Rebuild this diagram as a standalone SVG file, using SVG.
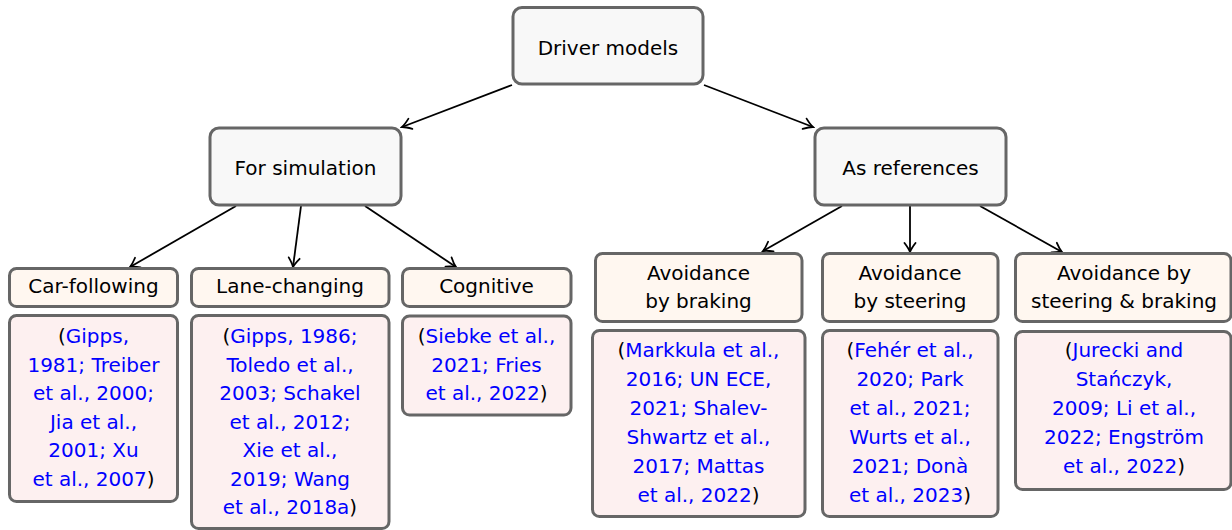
<svg xmlns="http://www.w3.org/2000/svg" width="1232" height="530" viewBox="0 0 1232 530">
<style>
.top{fill:#f8f8f8;stroke:#666;stroke-width:3}
.hdr{fill:#fff7f0;stroke:#666;stroke-width:3}
.cite{fill:#fdf0f0;stroke:#666;stroke-width:3}
text{font-family:"DejaVu Sans",sans-serif;font-size:20px;fill:#000;text-anchor:middle}
.b{fill:#0000ff}
.edge{stroke:#000;stroke-width:1.8;fill:none;marker-end:url(#arr)}
</style>
<defs>
<marker id="arr" markerUnits="userSpaceOnUse" viewBox="-11 -7 13 14" refX="0" refY="0" markerWidth="13" markerHeight="14" orient="auto">
<path d="M-9,-5.5 Q-3.5,-1.3 0,0 Q-3.5,1.3 -9,5.5" stroke="#000" stroke-width="1.8" fill="none" stroke-linecap="round"/>
</marker>
</defs>
<rect width="1232" height="530" fill="#fff"/>
<g id="connectors">
<line class="edge" x1="512" y1="85" x2="402" y2="127"/>
<line class="edge" x1="704" y1="85" x2="813" y2="127"/>
<line class="edge" x1="236" y1="206" x2="130" y2="267"/>
<line class="edge" x1="301" y1="206" x2="293" y2="267"/>
<line class="edge" x1="365" y1="206" x2="456" y2="267"/>
<line class="edge" x1="842" y1="206" x2="763" y2="251"/>
<line class="edge" x1="910" y1="206" x2="910" y2="252"/>
<line class="edge" x1="980" y1="206" x2="1062" y2="252"/>
</g>
<g id="driver-models">
<rect class="top" x="513" y="7.5" width="190" height="76.5" rx="9"/>
<text x="608" y="55">Driver models</text>
</g>
<g id="for-simulation">
<rect class="top" x="210" y="128" width="191" height="77" rx="9"/>
<text x="305.5" y="175">For simulation</text>
</g>
<g id="as-references">
<rect class="top" x="815" y="128" width="191" height="77" rx="9"/>
<text x="910.5" y="175">As references</text>
</g>
<g id="car-following">
<rect class="hdr" x="9.5" y="268.5" width="168" height="38" rx="7"/>
<text x="93.5" y="293">Car-following</text>
</g>
<g id="car-following-refs">
<rect class="cite" x="9.5" y="315.5" width="168" height="186" rx="7"/>
<text x="93.5" y="343">(<tspan class="b">Gipps,</tspan></text>
<text x="93.5" y="371.5" class="b">1981; Treiber</text>
<text x="93.5" y="400" class="b">et al., 2000;</text>
<text x="93.5" y="428.5" class="b">Jia et al.,</text>
<text x="93.5" y="457" class="b">2001; Xu</text>
<text x="93.5" y="485.5"><tspan class="b">et al., 2007</tspan>)</text>
</g>
<g id="lane-changing">
<rect class="hdr" x="191.5" y="268.5" width="197.5" height="38" rx="7"/>
<text x="290" y="293">Lane-changing</text>
</g>
<g id="lane-changing-refs">
<rect class="cite" x="191.5" y="315.5" width="197.5" height="213" rx="7"/>
<text x="290" y="343">(<tspan class="b">Gipps, 1986;</tspan></text>
<text x="290" y="371.5" class="b">Toledo et al.,</text>
<text x="290" y="400" class="b">2003; Schakel</text>
<text x="290" y="428.5" class="b">et al., 2012;</text>
<text x="290" y="457" class="b">Xie et al.,</text>
<text x="290" y="485.5" class="b">2019; Wang</text>
<text x="290" y="514"><tspan class="b">et al., 2018a</tspan>)</text>
</g>
<g id="cognitive">
<rect class="hdr" x="402.5" y="268.5" width="168.5" height="38" rx="7"/>
<text x="486.5" y="293">Cognitive</text>
</g>
<g id="cognitive-refs">
<rect class="cite" x="402.5" y="316" width="168.5" height="99" rx="7"/>
<text x="486.5" y="343">(<tspan class="b">Siebke et al.,</tspan></text>
<text x="486.5" y="371.5" class="b">2021; Fries</text>
<text x="486.5" y="400"><tspan class="b">et al., 2022</tspan>)</text>
</g>
<g id="avoidance-braking">
<rect class="hdr" x="595.5" y="253.5" width="206.5" height="68" rx="7"/>
<text x="698.5" y="280">Avoidance</text>
<text x="698.5" y="308">by braking</text>
</g>
<g id="avoidance-braking-refs">
<rect class="cite" x="592.5" y="330.5" width="212.5" height="186" rx="7"/>
<text x="698.5" y="357">(<tspan class="b">Markkula et al.,</tspan></text>
<text x="698.5" y="386" class="b">2016; UN ECE,</text>
<text x="698.5" y="415" class="b">2021; Shalev-</text>
<text x="698.5" y="444" class="b">Shwartz et al.,</text>
<text x="698.5" y="473" class="b">2017; Mattas</text>
<text x="698.5" y="502"><tspan class="b">et al., 2022</tspan>)</text>
</g>
<g id="avoidance-steering">
<rect class="hdr" x="822.5" y="253.5" width="175.5" height="68" rx="7"/>
<text x="910" y="280">Avoidance</text>
<text x="910" y="308">by steering</text>
</g>
<g id="avoidance-steering-refs">
<rect class="cite" x="822.5" y="330.5" width="175.5" height="186" rx="7"/>
<text x="910" y="357">(<tspan class="b">Fehér et al.,</tspan></text>
<text x="910" y="386" class="b">2020; Park</text>
<text x="910" y="415" class="b">et al., 2021;</text>
<text x="910" y="444" class="b">Wurts et al.,</text>
<text x="910" y="473" class="b">2021; Donà</text>
<text x="910" y="502"><tspan class="b">et al., 2023</tspan>)</text>
</g>
<g id="avoidance-steering-braking">
<rect class="hdr" x="1015.5" y="253.5" width="215.5" height="68" rx="7"/>
<text x="1124" y="280">Avoidance by</text>
<text x="1124" y="308">steering &amp; braking</text>
</g>
<g id="avoidance-steering-braking-refs">
<rect class="cite" x="1015.5" y="331.5" width="215.5" height="158" rx="7"/>
<text x="1124" y="357">(<tspan class="b">Jurecki and</tspan></text>
<text x="1124" y="386" class="b">Stańczyk,</text>
<text x="1124" y="415" class="b">2009; Li et al.,</text>
<text x="1124" y="444" class="b">2022; Engström</text>
<text x="1124" y="473"><tspan class="b">et al., 2022</tspan>)</text>
</g>
</svg>
